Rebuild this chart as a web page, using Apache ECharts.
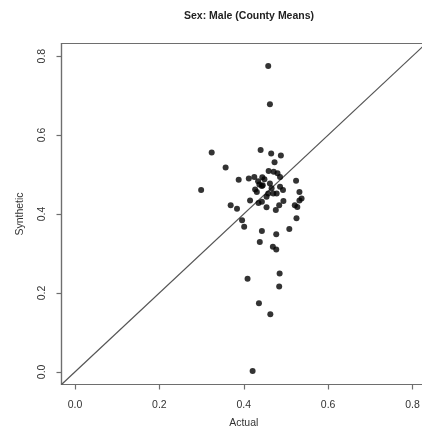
<!DOCTYPE html>
<html>
<head>
<meta charset="utf-8">
<script src="https://cdn.jsdelivr.net/npm/echarts@6/dist/echarts.min.js"></script>
<style>
  html, body { margin: 0; padding: 0; background: #fff; }
  #chart { width: 422px; height: 438px; }
</style>
</head>
<body>
<div id="chart"></div>
<script>
// County means: actual vs synthetic share of males
const actual = [
  0.458, 0.462, 0.324, 0.440, 0.465, 0.488, 0.473, 0.357, 0.299, 0.388,
  0.412, 0.425, 0.459, 0.471, 0.480, 0.486, 0.444, 0.449, 0.437, 0.443,
  0.427, 0.431, 0.445, 0.462, 0.466, 0.470, 0.478, 0.458, 0.486, 0.524,
  0.532, 0.537, 0.532, 0.521, 0.527, 0.525, 0.369, 0.384, 0.415, 0.435,
  0.443, 0.454, 0.476, 0.484, 0.494, 0.396, 0.401, 0.443, 0.508, 0.477,
  0.438, 0.469, 0.477, 0.485, 0.409, 0.484, 0.436, 0.463, 0.421, 0.454,
  0.434, 0.493
];
const synthetic = [
  0.775, 0.678, 0.556, 0.562, 0.553, 0.548, 0.531, 0.518, 0.461, 0.487,
  0.490, 0.494, 0.509, 0.507, 0.503, 0.494, 0.493, 0.488, 0.475, 0.471,
  0.462, 0.456, 0.473, 0.477, 0.465, 0.452, 0.452, 0.452, 0.469, 0.484,
  0.456, 0.439, 0.434, 0.422, 0.418, 0.389, 0.422, 0.413, 0.434, 0.428,
  0.431, 0.417, 0.410, 0.422, 0.433, 0.384, 0.368, 0.357, 0.362, 0.349,
  0.329, 0.317, 0.310, 0.249, 0.236, 0.216, 0.174, 0.146, 0.002, 0.444,
  0.483, 0.461
];
const tickValues = [0.0, 0.2, 0.4, 0.6, 0.8];
const axisMin = -0.032;
const axisMax = 0.832;

const points = actual.map((a, i) => [a, synthetic[i]]);
const fmt = v => v.toFixed(1);
const textColor = '#333';
const lineColor = '#6e6e6e';
const font = '"Liberation Sans", Arial, sans-serif';

const chart = echarts.init(document.getElementById('chart'), null, { renderer: 'canvas' });

function axis(name, nameGap, rotate, margin) {
  return {
    type: 'value',
    min: axisMin,
    max: axisMax,
    name: name,
    nameLocation: 'middle',
    nameGap: nameGap,
    nameTextStyle: { color: textColor, fontSize: 10.5, fontFamily: font },
    axisLine: { show: true, onZero: false, lineStyle: { color: lineColor, width: 1.2 } },
    axisTick: {
      show: true, inside: false, length: 5,
      customValues: tickValues,
      lineStyle: { color: lineColor, width: 1.2 }
    },
    axisLabel: {
      show: true, customValues: tickValues, formatter: fmt,
      rotate: rotate, margin: margin,
      color: textColor, fontSize: 10.5, fontFamily: font
    },
    splitLine: { show: false }
  };
}

chart.setOption({
  animation: false,
  backgroundColor: '#fff',
  title: {
    text: 'Sex: Male (County Means)',
    left: 244, top: 6, textAlign: 'center',
    textStyle: { color: '#222', fontSize: 10.5, fontWeight: 'bold', fontFamily: font }
  },
  grid: {
    left: 61.5, top: 43.5, right: -4, bottom: 53.5,
    outerBoundsMode: 'none',
    show: true, borderColor: lineColor, borderWidth: 1.2, backgroundColor: 'transparent'
  },
  xAxis: axis('Actual', 33, 0, 15),
  yAxis: axis('Synthetic', 36, 90, 14),
  series: [
    {
      type: 'line',
      data: [[axisMin, axisMin], [axisMax, axisMax]],
      showSymbol: false,
      lineStyle: { color: '#555', width: 1.2 },
      clip: true,
      z: 1
    },
    {
      type: 'scatter',
      data: points,
      symbol: 'circle',
      symbolSize: 6,
      itemStyle: { color: '#000' },
      z: 2
    }
  ]
});
</script>
</body>
</html>
